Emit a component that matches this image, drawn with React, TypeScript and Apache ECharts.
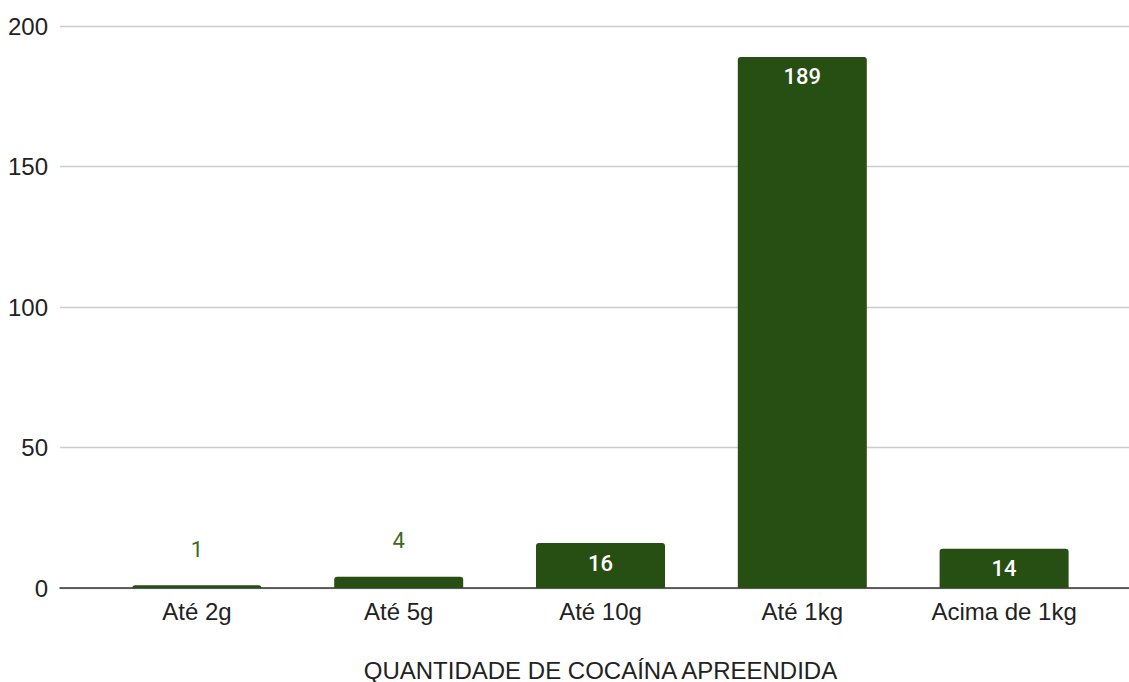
import React, { useEffect, useRef } from "react";
import * as echarts from "echarts";

const categories = ["Até 2g", "Até 5g", "Até 10g", "Até 1kg", "Acima de 1kg"];
const values = [1, 4, 16, 189, 14];
const yTicks = { min: 0, max: 200, interval: 50 };
const axisTitle = "QUANTIDADE DE COCAÍNA APREENDIDA";

const BAR = "#274e13";
const LABEL_OUT = "#3b6a22";

export default function App() {
  const ref = useRef<HTMLDivElement>(null);
  useEffect(() => {
    document.body.style.margin = "0";
    const chart = echarts.init(ref.current!, undefined, { renderer: "svg" });
    const data = values.map((v) => {
      const inside = v >= 10;
      return {
        value: v,
        label: inside
          ? { show: true, position: "insideTop", distance: 9, color: "#ffffff", fontWeight: 500 }
          : { show: true, position: "top", distance: 25, color: LABEL_OUT, fontWeight: "normal" },
      };
    });
    chart.setOption({
      animation: false,
      backgroundColor: "#ffffff",
      grid: [
        { left: 60, right: 0, top: 26, bottom: 94, outerBoundsMode: "none", containLabel: false },
        { left: 96, right: 24, top: 26, bottom: 94, outerBoundsMode: "none", containLabel: false },
      ],
      xAxis: [
        {
          gridIndex: 0,
          type: "value",
          min: 0,
          max: 1,
          axisLine: { show: true, lineStyle: { color: "#333333", width: 1.5 } },
          axisTick: { show: false },
          axisLabel: { show: false },
          splitLine: { show: false },
        },
        {
          gridIndex: 1,
          type: "category",
          data: categories,
          axisLine: { show: false },
          axisTick: { show: false },
          axisLabel: {
            margin: 11,
            fontFamily: "Liberation Sans, Arial, sans-serif",
            fontSize: 24,
            color: "#222222",
          },
          name: axisTitle,
          nameLocation: "middle",
          nameGap: 70,
          nameTextStyle: {
            fontFamily: "Liberation Sans, Arial, sans-serif",
            fontSize: 24,
            color: "#222222",
          },
        },
      ],
      yAxis: [
        {
          gridIndex: 0,
          type: "value",
          min: yTicks.min,
          max: yTicks.max,
          interval: yTicks.interval,
          axisLine: { show: false },
          axisTick: { show: false },
          axisLabel: {
            margin: 12,
            fontFamily: "Liberation Sans, Arial, sans-serif",
            fontSize: 24,
            color: "#222222",
          },
          splitLine: { show: true, lineStyle: { color: "#cccccc", width: 1.3 } },
        },
        {
          gridIndex: 1,
          type: "value",
          min: yTicks.min,
          max: yTicks.max,
          interval: yTicks.interval,
          show: false,
          splitLine: { show: false },
        },
      ],
      series: [
        {
          type: "bar",
          xAxisIndex: 1,
          yAxisIndex: 1,
          data,
          barWidth: 129,
          itemStyle: { color: BAR, borderRadius: [3, 3, 0, 0] },
          label: {
            fontFamily: "Roboto, sans-serif",
            fontSize: 22,
          },
          z: 3,
        },
      ],
    });
    return () => chart.dispose();
  }, []);
  return <div ref={ref} style={{ width: 1129, height: 682 }} />;
}
